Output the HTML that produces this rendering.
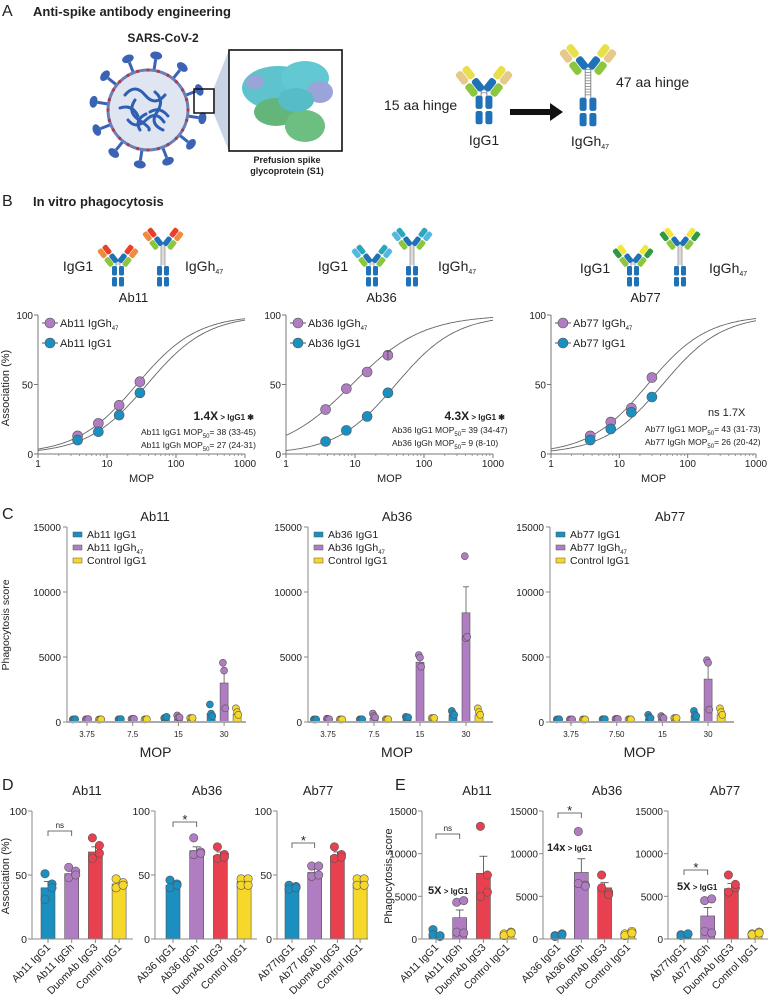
<!DOCTYPE html>
<html><head><meta charset="utf-8"><style>
html,body{margin:0;padding:0;background:#fff;}
svg{display:block;font-family:"Liberation Sans",Arial,sans-serif;}
text{fill:#222;}
</style></head><body>
<svg id="fig" width="770" height="999" viewBox="0 0 770 999" xmlns="http://www.w3.org/2000/svg">
<!-- Panel A -->
<text x="2" y="16" font-size="16">A</text>
<text x="33" y="16" font-size="13" font-weight="bold">Anti-spike antibody engineering</text>
<text x="163" y="42" font-size="12" font-weight="bold" text-anchor="middle">SARS-CoV-2</text>
<g id="virus"></g>
<polygon points="213,90 213,112 229,151 229,50" fill="#c9d3e6"/>
<rect x="194" y="89" width="20" height="24" fill="none" stroke="#111" stroke-width="1.5"/>
<g>
<rect x="229" y="50" width="113" height="101" fill="#fff" stroke="#111" stroke-width="1.6"/>
<ellipse cx="278" cy="88" rx="36" ry="22" fill="#5ec3cc"/>
<ellipse cx="305" cy="78" rx="24" ry="17" fill="#62c8d2"/>
<ellipse cx="320" cy="92" rx="13" ry="11" fill="#9aa4d8"/>
<ellipse cx="276" cy="112" rx="22" ry="14" fill="#64b57a"/>
<ellipse cx="305" cy="126" rx="20" ry="16" fill="#6cbf80"/>
<ellipse cx="296" cy="100" rx="18" ry="12" fill="#56bcc6"/>
<ellipse cx="255" cy="82" rx="9" ry="7" fill="#9aa4d8"/>
</g>
<text x="287" y="163" font-size="9" font-weight="bold" text-anchor="middle">Prefusion spike</text>
<text x="287" y="174" font-size="9" font-weight="bold" text-anchor="middle">glycoprotein (S1)</text>
<text x="384" y="110" font-size="14">15 aa hinge</text>
<text x="616" y="87" font-size="14">47 aa hinge</text>
<g><rect x="510" y="109" width="42" height="6" fill="#111"/><polygon points="550,103 563,112 550,121" fill="#111"/></g>
<text x="484" y="145" font-size="14" text-anchor="middle">IgG1</text>
<text x="590" y="146" font-size="14" text-anchor="middle">IgGh<tspan font-size="7" dy="3">47</tspan></text>
<!-- Panel B -->
<text x="2" y="206" font-size="16">B</text>
<text x="33" y="206" font-size="13" font-weight="bold">In vitro phagocytosis</text>
<text x="78" y="271" font-size="14" text-anchor="middle">IgG1</text>
<text x="185" y="271" font-size="14">IgGh<tspan font-size="7" dy="3">47</tspan></text>
<text x="333" y="271" font-size="14" text-anchor="middle">IgG1</text>
<text x="438" y="271" font-size="14">IgGh<tspan font-size="7" dy="3">47</tspan></text>
<text x="595" y="273" font-size="14" text-anchor="middle">IgG1</text>
<text x="709" y="273" font-size="14">IgGh<tspan font-size="7" dy="3">47</tspan></text>
<text x="6" y="385" font-size="11" transform="rotate(-90 9 385)" text-anchor="middle">Association (%)</text>
<!-- Panel C -->
<text x="2" y="519" font-size="16">C</text>
<text x="9" y="625" font-size="10.5" transform="rotate(-90 9 625)" text-anchor="middle">Phagocytosis score</text>
<!-- Panel D/E -->
<text x="2" y="790" font-size="16">D</text>
<text x="395" y="790" font-size="16">E</text>
<text x="9" y="876" font-size="11" transform="rotate(-90 9 876)" text-anchor="middle">Association (%)</text>
<text x="392" y="876" font-size="11" transform="rotate(-90 392 876)" text-anchor="middle">Phagocytosis score</text>
<g id="dyn"></g>
</svg>
<script>
var NS='http://www.w3.org/2000/svg';
var root=document.getElementById('dyn');
function mk(tag,attrs,parent){var e=document.createElementNS(NS,tag);for(var k in attrs)e.setAttribute(k,attrs[k]);(parent||root).appendChild(e);return e;}
function txt(x,y,s,size,anchor,parent,extra){var t=mk('text',{x:x,y:y,'font-size':size,'text-anchor':anchor||'start'},parent);if(extra)for(var k in extra)t.setAttribute(k,extra[k]);t.textContent=s;return t;}

// ---------- Virus ----------
(function(){
 var g=document.getElementById('virus');
 var cx=148,cy=110,r=40;
 for(var i=0;i<12;i++){var a=i*Math.PI/6+0.15;
  var x1=cx+Math.cos(a)*r,y1=cy+Math.sin(a)*r,x2=cx+Math.cos(a)*(r+11),y2=cy+Math.sin(a)*(r+11);
  mk('line',{x1:x1,y1:y1,x2:x2,y2:y2,stroke:'#3a62b5','stroke-width':3},g);
  var hx=cx+Math.cos(a)*(r+15),hy=cy+Math.sin(a)*(r+15);
  mk('ellipse',{cx:hx,cy:hy,rx:6,ry:4,fill:'#3a62b5',transform:'rotate('+(a*180/Math.PI+90)+' '+hx+' '+hy+')'},g);}
 mk('circle',{cx:cx,cy:cy,r:r,fill:'#dfe6f1',stroke:'#6a7fb8','stroke-width':3},g);
 for(var j=0;j<24;j++){var b=j*Math.PI/12;mk('circle',{cx:cx+Math.cos(b)*r,cy:cy+Math.sin(b)*r,r:1.6,fill:'#b03a4a'},g);}
 var d=['M125 95 q10 -12 20 0 t20 0','M128 120 q8 10 18 0 t18 2','M135 100 q-8 12 4 20 t10 10','M155 92 q10 8 2 20 t6 18','M120 108 q12 -4 18 8','M150 112 q10 -6 18 4','M140 130 q-6 -10 6 -16'];
 d.forEach(function(p){mk('path',{d:p,fill:'none',stroke:'#2f5fb3','stroke-width':3,'stroke-linecap':'round'},g);});
})();

// ---------- Antibody drawing ----------
function antibody(cx,yb,hinge,cInner,cOuter,sc,name){
 var g=mk('g',{transform:'translate('+cx+' '+yb+') scale('+sc+')'});
 
 
 var blue='#1f72b8',green='#8cc63f';
 [[-6,-10],[1,-10],[-6,-21],[1,-21]].forEach(function(p){mk('rect',{x:p[0],y:p[1],width:5,height:9.5,rx:1.5,fill:blue},g);});
 var yt=-21-hinge;
 mk('line',{x1:-2,y1:-21,x2:-2,y2:yt,stroke:'#888','stroke-width':0.7},g);
 mk('line',{x1:2,y1:-21,x2:2,y2:yt,stroke:'#888','stroke-width':0.7},g);
 for(var y=-23;y>yt;y-=2)mk('line',{x1:-2,y1:y,x2:2,y2:y,stroke:'#888','stroke-width':0.6},g);
 [-1,1].forEach(function(s){
  var a=mk('g',{transform:'translate('+(2*s)+' '+yt+') scale('+s+' 1) rotate(-38)'},g);
  mk('rect',{x:-6,y:-11,width:5.5,height:10,rx:2,fill:blue},a);
  mk('rect',{x:-12,y:-11,width:5.5,height:10,rx:2,fill:green},a);
  mk('rect',{x:-6,y:-22,width:5.5,height:10,rx:2,fill:cInner},a);
  mk('rect',{x:-12,y:-22,width:5.5,height:10,rx:2,fill:cOuter},a);
 });
}
antibody(484,125,5,'#e8df4a','#e6c88a',1.4,'igg1-antibody-a');
antibody(588,127,22,'#e8df4a','#e6c88a',1.4,'iggh47-antibody-a');
antibody(118,287,5,'#e8402a','#f08a3c',1,'ab11-igg1-antibody');
antibody(163,287,22,'#e8402a','#f08a3c',1,'ab11-iggh47-antibody');
antibody(372,287,5,'#2aa7bb','#52b8e2',1,'ab36-igg1-antibody');
antibody(412,287,22,'#2aa7bb','#52b8e2',1,'ab36-iggh47-antibody');
antibody(633,287,5,'#f2e63a','#2e9a44',1,'ab77-igg1-antibody');
antibody(680,287,22,'#f2e63a','#2e9a44',1,'ab77-iggh47-antibody');

var BLUE='#1b8fc0',PURP='#b07cc2',RED='#e8404f',YEL='#f6d82a';

// ---------- Panel B data ----------
var bDoses=[3.75,7.5,15,30];
var bXTicks=[1,10,100,1000];
var bYTicks=[0,50,100];
var b11Gh=[13,22,35,52], b11G1=[10,16,28,44];
var b36Gh=[32,47,59,71], b36G1=[9,17,27,44];
var b77Gh=[13,23,33,55], b77G1=[10,18,30,41];
var bEC50=[[27,38],[9,39],[26,43]];
var bHill=[[1,1],[0.85,1],[1,1]];

function panelB(x1,x1000,name,gh,g1,ec,hill,idx){
 var g=mk('g',{});
 
 
 var y0=454,y100=315;
 function X(v){return x1+(Math.log10(v))/3*(x1000-x1);}
 function Y(v){return y0-(v/100)*(y0-y100);}
 var t=txt((x1+x1000)/2-8,302,name,13,'middle',g);
 
 
 mk('line',{x1:x1,y1:y0,x2:x1000,y2:y0,stroke:'#777'},g);
 mk('line',{x1:x1,y1:y0,x2:x1,y2:y100,stroke:'#777'},g);
 bXTicks.forEach(function(v){var x=X(v);mk('line',{x1:x,y1:y0,x2:x,y2:y0+4,stroke:'#777'},g);
  var l=txt(x,y0+13,String(v),10,'middle',g);
  if(v<1000)for(var k=2;k<10;k++){var xm=X(v*k);mk('line',{x1:xm,y1:y0,x2:xm,y2:y0+2,stroke:'#999'},g);} });
 bYTicks.forEach(function(v){var y=Y(v);mk('line',{x1:x1-4,y1:y,x2:x1,y2:y,stroke:'#777'},g);
  var l=txt(x1-5,y+4,String(v),10,'end',g);});
 var xl=txt((x1+x1000)/2,y0+28,'MOP',11,'middle',g);
 
 [0,1].forEach(function(s){var pts=[];for(var i=0;i<=120;i++){var v=Math.pow(10,i/40);var r=100/(1+Math.pow(ec[s]/v,hill[s]));pts.push(X(v).toFixed(1)+','+Y(r).toFixed(1));}
  var p=mk('polyline',{points:pts.join(' '),fill:'none',stroke:'#666','stroke-width':0.9},g);
  });
 [[gh,PURP,'iggh47'],[g1,BLUE,'igg1']].forEach(function(sr){
  sr[0].forEach(function(v,i){var c=mk('circle',{cx:X(bDoses[i]),cy:Y(v),r:5,fill:sr[1],stroke:'#555','stroke-width':0.6},g);
   });});
 // legend
 [[PURP,name+' IgGh',323,true],[BLUE,name+' IgG1',343,false]].forEach(function(L){
  var lg=mk('g',{},g);
  mk('line',{x1:x1+4,y1:L[2],x2:x1+20,y2:L[2],stroke:'#555'},lg);
  mk('circle',{cx:x1+12,cy:L[2],r:5,fill:L[0],stroke:'#555','stroke-width':0.6},lg);
  var tt=txt(x1+22,L[2]+4,L[1],11,'start',lg);
  if(L[3]){var ts=document.createElementNS(NS,'tspan');ts.setAttribute('font-size','6');ts.setAttribute('dy','3');ts.textContent='47';tt.appendChild(ts);} });
 return {g:g,X:X,Y:Y};
}
var B1=panelB(38,245,'Ab11',b11Gh,b11G1,bEC50[0],bHill[0],0);
var B2=panelB(286,493,'Ab36',b36Gh,b36G1,bEC50[1],bHill[1],1);
var B3=panelB(551,756,'Ab77',b77Gh,b77G1,bEC50[2],bHill[2],2);
mk('line',{x1:B2.X(30),y1:B2.Y(68),x2:B2.X(30),y2:B2.Y(74),stroke:'#555'},B2.g);
mk('line',{x1:B2.X(30)-3,y1:B2.Y(74),x2:B2.X(30)+3,y2:B2.Y(74),stroke:'#555'},B2.g);

function mopText(g,x,y,lines,big,bx,by){
 var t=txt(bx,by,big[0],12,'end',g,{'font-weight':'bold'});
 if(big[1]){var ts=document.createElementNS(NS,'tspan');ts.setAttribute('font-size','8');ts.textContent=big[1];t.appendChild(ts);}
 lines.forEach(function(L,i){var tt=txt(x,y+i*13,L[0],8.5,'start',g);
  var s=document.createElementNS(NS,'tspan');s.setAttribute('font-size','6');s.setAttribute('dy','3');s.textContent='50';tt.appendChild(s);
  var s2=document.createElementNS(NS,'tspan');s2.setAttribute('dy','-3');s2.textContent=L[1];tt.appendChild(s2);});
}
mopText(B1.g,141,435,[['Ab11 IgG1 MOP','= 38 (33-45)'],['Ab11 IgGh MOP','= 27 (24-31)']],['1.4X',' > IgG1 ✱'],254,420);
mopText(B2.g,392,433,[['Ab36 IgG1 MOP','= 39 (34-47)'],['Ab36 IgGh MOP','= 9 (8-10)']],['4.3X',' > IgG1 ✱'],505,420);
mopText(B3.g,645,432,[['Ab77 IgG1 MOP','= 43 (31-73)'],['Ab77 IgGh MOP','= 26 (20-42)']],['',''],700,416);
var ns77=txt(708,416,'ns 1.7X',11,'start',B3.g);

// ---------- Panel C data ----------
var cGroups=['3.75','7.5','15','30'];
var cGroups77=['3.75','7.50','15','30'];
var cYTicks=[0,5000,10000,15000];
var c11Blue=[50,60,200,650], c11Purp=[60,80,250,3000], c11Yel=[40,50,150,600];
var c36Blue=[40,50,200,550], c36Purp=[70,300,4600,8400], c36Yel=[40,50,150,550];
var c77Blue=[50,60,250,500], c77Purp=[40,80,200,3300], c77Yel=[40,50,150,550];
var c11PurpErr=[70,90,300,4000], c36PurpErr=[90,400,5000,10400], c77PurpErr=[40,90,250,4400];
var c11BlueDots=[[40,50,60],[50,60,70],[150,200,250],[1200,500,300]];
var c11PurpDots=[[50,60,70],[70,80,90],[350,200,200],[4400,3800,900]];
var c11YelDots=[[30,40,50],[40,50,60],[150,150,150],[900,600,400]];
var c36BlueDots=[[40,40,40],[50,50,50],[250,150,200],[700,500,400]];
var c36PurpDots=[[100,80,60],[500,300,200],[5000,4800,4100],[12600,6300,6400]];
var c36YelDots=[[40,40,40],[50,50,50],[150,150,150],[900,600,400]];
var c77BlueDots=[[40,50,60],[60,60,60],[400,200,150],[700,400,300]];
var c77PurpDots=[[40,40,40],[80,80,80],[300,200,150],[4600,4400,800]];
var c77YelDots=[[40,40,40],[50,50,50],[150,150,150],[900,600,400]];

function panelC(ax,axEnd,g0,gStep,name,labels,series,titleX){
 var g=mk('g',{});
 var y0=722,yTop=527;
 function Y(v){return y0-v/15000*(y0-yTop);}
 function GX(i){return g0+i*gStep;}
 var t=txt(titleX,521,name,13,'middle',g);
 mk('line',{x1:ax,y1:yTop,x2:ax,y2:y0,stroke:'#888'},g);
 cYTicks.forEach(function(v){mk('line',{x1:ax-4,y1:Y(v),x2:ax,y2:Y(v),stroke:'#888'},g);
  var l=txt(ax-6,Y(v)+4,String(v),10,'end',g);});
 series.forEach(function(s,si){
  s.vals.forEach(function(v,i){var cx=GX(i)+(si-1)*13;
   if(s.err){mk('line',{x1:cx,y1:Y(v),x2:cx,y2:Y(s.err[i]),stroke:'#555','stroke-width':0.8},g);mk('line',{x1:cx-3,y1:Y(s.err[i]),x2:cx+3,y2:Y(s.err[i]),stroke:'#555','stroke-width':0.8},g);}
   var r=mk('rect',{x:cx-4,y:Y(v),width:8,height:y0-Y(v),fill:s.c,stroke:'#555','stroke-width':0.6},g);
   
   s.dots[i].forEach(function(d,k){var c=mk('circle',{cx:cx+(k-1)*1.2,cy:Y(d)-2,r:3.5,fill:s.c,stroke:'#555','stroke-width':0.6},g);
    });
  });});
 mk('line',{x1:ax,y1:y0,x2:axEnd,y2:y0,stroke:'#aaa','stroke-width':2},g);
 labels.forEach(function(L,i){var x=GX(i);mk('line',{x1:x,y1:y0,x2:x,y2:y0+4,stroke:'#888'},g);
  var l=txt(x,y0+15,L,8,'middle',g);});
 var xl=txt((GX(0)+GX(3))/2,y0+35,'MOP',14,'middle',g);
 [[BLUE,name+' IgG1',false],[PURP,name+' IgGh',true],[YEL,'Control IgG1',false]].forEach(function(L,i){
  var lg=mk('g',{},g);
  mk('rect',{x:ax+6,y:532+i*13,width:9,height:5,fill:L[0],stroke:'#555','stroke-width':0.5},lg);
  var tt=txt(ax+20,538+i*13,L[1],10.5,'start',lg);
  if(L[2]){var ts=document.createElementNS(NS,'tspan');ts.setAttribute('font-size','6');ts.setAttribute('dy','3');ts.textContent='47';tt.appendChild(ts);} });
}
panelC(67,246,87,45.7,'Ab11',cGroups,[{vals:c11Blue,dots:c11BlueDots,c:BLUE,n:'igg1'},{vals:c11Purp,dots:c11PurpDots,c:PURP,n:'iggh47',err:c11PurpErr},{vals:c11Yel,dots:c11YelDots,c:YEL,n:'control'}],155);
panelC(308,493,328,46,'Ab36',cGroups,[{vals:c36Blue,dots:c36BlueDots,c:BLUE,n:'igg1'},{vals:c36Purp,dots:c36PurpDots,c:PURP,n:'iggh47',err:c36PurpErr},{vals:c36Yel,dots:c36YelDots,c:YEL,n:'control'}],397);
panelC(550,734,571,45.7,'Ab77',cGroups77,[{vals:c77Blue,dots:c77BlueDots,c:BLUE,n:'igg1'},{vals:c77Purp,dots:c77PurpDots,c:PURP,n:'iggh47',err:c77PurpErr},{vals:c77Yel,dots:c77YelDots,c:YEL,n:'control'}],670);

// ---------- Panels D & E ----------
var dYTicks=[0,50,100];
var eYTicks=[0,5000,10000,15000];
var d11Vals=[40,51,68,43], d36Vals=[42,69,65,45], d77Vals=[40,52,65,44];
var d11Err=[45,53,72,45], d36Err=[44,72,68,47], d77Err=[41,55,68,46];
var d11Dots=[[51,43,31,40],[56,53,48,50],[79,73,63,67],[47,44,40,42]];
var d36Dots=[[46,43,40,42],[79,68,66,67],[72,66,63,64],[47,47,42,42]];
var d77Dots=[[42,41,39,40],[57,57,49,50],[72,66,63,64],[47,47,42,42]];
var e11Vals=[500,2500,7700,600], e36Vals=[400,7800,6000,600], e77Vals=[500,2700,5900,600];
var e11Err=[600,3400,9700,700], e36Err=[500,9400,6600,700], e77Err=[550,3700,6500,700];
var e11Dots=[[1100,300,500,400],[4300,4500,800,700],[13200,7500,5000,5500],[600,800,400,700]];
var e36Dots=[[400,600,300,500],[12600,6300,6500,6200],[7500,5500,6000,5200],[600,900,400,700]];
var e77Dots=[[500,600,400,600],[4500,4700,900,700],[7500,6000,5500,6400],[600,800,500,700]];
var d11Labels=['Ab11 IgG1','Ab11 IgGh','DuomAb IgG3','Control IgG1'];
var d36Labels=['Ab36 IgG1','Ab36 IgGh','DuomAb IgG3','Control IgG1'];
var d77Labels=['Ab77IgG1','Ab77 IgGh','DuomAb IgG3','Control IgG1'];
var COLS=[BLUE,PURP,RED,YEL];

function barPanel(id,ax,axEnd,bx,bStep,vmax,ticks,vals,err,dots,labels,title,titleX,ylab){
 var g=mk('g',{});
 var y0=939,yTop=811;
 function Y(v){return y0-v/vmax*(y0-yTop);}
 function BX(i){return bx+i*bStep;}
 var t=txt(titleX,795,title,13,'middle',g);
 mk('line',{x1:ax,y1:yTop,x2:ax,y2:y0,stroke:'#888'},g);
 ticks.forEach(function(v){mk('line',{x1:ax-4,y1:Y(v),x2:ax,y2:Y(v),stroke:'#888'},g);
  var l=txt(ax-5,Y(v)+4,String(v),ylab,'end',g);});
 vals.forEach(function(v,i){var cx=BX(i);
  mk('line',{x1:cx,y1:Y(v),x2:cx,y2:Y(err[i]),stroke:'#444','stroke-width':0.8},g);
  mk('line',{x1:cx-4,y1:Y(err[i]),x2:cx+4,y2:Y(err[i]),stroke:'#444','stroke-width':0.8},g);
  var r=mk('rect',{x:cx-7,y:Y(v),width:14,height:y0-Y(v),fill:COLS[i],stroke:'#555','stroke-width':0.6},g);
  
  dots[i].forEach(function(d,k){var c=mk('circle',{cx:cx+(k%2?4:-3),cy:Y(d),r:4.2,fill:COLS[i],stroke:'#555','stroke-width':0.6},g);
   });
  mk('line',{x1:cx,y1:y0,x2:cx,y2:y0+4,stroke:'#888'},g);
  var l=txt(cx+3,y0+9,labels[i],10.5,'end',g,{transform:'rotate(-45 '+(cx+3)+' '+(y0+9)+')'});
  });
 mk('line',{x1:ax,y1:y0,x2:axEnd,y2:y0,stroke:'#888'},g);
 return {g:g,BX:BX,Y:Y};
}
function bracket(P,yb,label,bold){
 var x1=P.BX(0),x2=P.BX(1);
 var p=mk('path',{d:'M'+x1+' '+(yb+5)+' V'+yb+' H'+x2+' V'+(yb+5),fill:'none',stroke:'#444','stroke-width':0.8},P.g);
 
 var t=txt((x1+x2)/2,yb-3,label,bold?13:8,'middle',P.g);
 if(bold)t.setAttribute('dy','5');
}
var D1=barPanel('chart-d-ab11',32,133,48,23.7,100,dYTicks,d11Vals,d11Err,d11Dots,d11Labels,'Ab11',87,10.5);
var D2=barPanel('chart-d-ab36',155,257,173,23.7,100,dYTicks,d36Vals,d36Err,d36Dots,d36Labels,'Ab36',207,10.5);
var D3=barPanel('chart-d-ab77',277,368,292,22.7,100,dYTicks,d77Vals,d77Err,d77Dots,d77Labels,'Ab77',318,10.5);
var E1=barPanel('chart-e-ab11',422,517,436,23.7,15000,eYTicks,e11Vals,e11Err,e11Dots,d11Labels,'Ab11',477,10);
var E2=barPanel('chart-e-ab36',543,637,558,23.3,15000,eYTicks,e36Vals,e36Err,e36Dots,d36Labels,'Ab36',607,10);
var E3=barPanel('chart-e-ab77',668,768,684,23.7,15000,eYTicks,e77Vals,e77Err,e77Dots,d77Labels,'Ab77',725,10);
bracket(D1,831,'ns',false);
bracket(D2,822,'*',true);
bracket(D3,843,'*',true);
bracket(E1,834,'ns',false);
bracket(E2,813,'*',true);
bracket(E3,870,'*',true);
function foldText(P,x,y,a,b){var t=txt(x,y,a,11,'start',P.g,{'font-weight':'bold'});
 var s=document.createElementNS(NS,'tspan');s.setAttribute('font-size','8');s.textContent=b;t.appendChild(s);}
foldText(E1,428,894,'5X',' > IgG1');
foldText(E2,547,851,'14x',' > IgG1');
foldText(E3,677,890,'5X',' > IgG1');
</script>
</body></html>
